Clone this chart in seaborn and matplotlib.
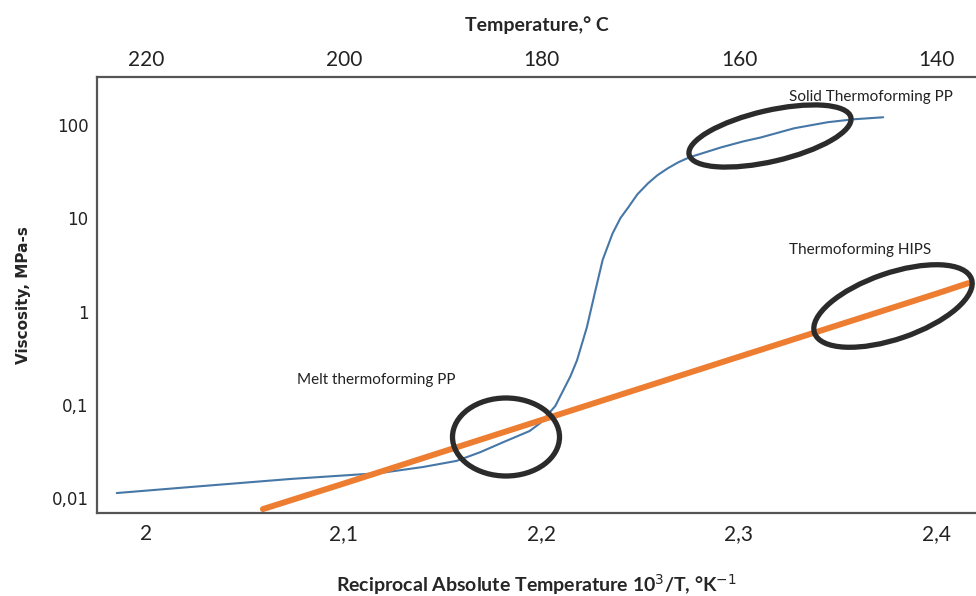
import numpy as np
import pandas as pd
import seaborn as sns
import matplotlib.pyplot as plt
from matplotlib.patches import Ellipse

# values
pp_recip = [1.985, 2.022, 2.073, 2.118, 2.140, 2.157, 2.169, 2.181, 2.194, 2.1995,
            2.207, 2.2147, 2.218, 2.223, 2.227, 2.231, 2.236, 2.240, 2.244, 2.2486,
            2.254, 2.2587, 2.264, 2.2694, 2.275, 2.283, 2.291, 2.3023, 2.311, 2.328,
            2.345, 2.358, 2.373]
pp_visc = [0.0113, 0.0131, 0.016, 0.0185, 0.0215, 0.025, 0.031, 0.040, 0.0523, 0.064,
           0.097, 0.203, 0.30, 0.68, 1.58, 3.6, 6.9, 10.1, 13.2, 18.2,
           23.9, 29.1, 34.6, 40.2, 45.4, 51.3, 58, 67.3, 74, 93,
           108, 116, 122]

hips_recip = [2.059, 2.1, 2.2, 2.3, 2.4, 2.416]
hips_visc = [0.0076, 0.0143, 0.0686, 0.328, 1.56, 2.02]

recip_ticks = [2.0, 2.1, 2.2, 2.3, 2.4]
recip_labels = ['2', '2,1', '2,2', '2,3', '2,4']
temp_labels = ['220', '200', '180', '160', '140']
visc_ticks = [0.01, 0.1, 1, 10, 100]
visc_labels = ['0,01', '0,1', '1', '10', '100']

W, H = 976, 596

sns.set_style('white')
plt.rcParams['font.family'] = ['Lato', 'DejaVu Sans']

pp = pd.DataFrame({'recip': pp_recip, 'visc': pp_visc})
hips = pd.DataFrame({'recip': hips_recip, 'visc': hips_visc})

fig = plt.figure(figsize=(W / 100, H / 100), dpi=100)
ax = fig.add_axes([97 / W, 1 - 513 / H, 1 - 97 / W, (513 - 77) / H])

sns.lineplot(data=pp, x='recip', y='visc', ax=ax, color='#4677a6', linewidth=1.5, sort=False)
sns.lineplot(data=hips, x='recip', y='visc', ax=ax, color='#ed7d31', linewidth=4.3, sort=False)

ax.set_yscale('log')
ax.set_xlim(1.975, 2.420)
ax.set_ylim(0.0069, 330)
ax.set_yticks(visc_ticks)
ax.set_yticklabels(visc_labels, family='DejaVu Sans', fontsize=12)
ax.minorticks_off()
ax.set_xticks(recip_ticks)
ax.set_xticklabels(recip_labels, fontsize=15)
ax.tick_params(length=0, colors='#222222')
ax.tick_params(axis='x', pad=8)
ax.tick_params(axis='y', pad=6)

ax.set_xlabel('Reciprocal Absolute Temperature 10$^3$/T, °K$^{-1}$',
              fontsize=14, fontweight='bold', labelpad=20)
ax.set_ylabel('Viscosity, MPa-s', family='DejaVu Sans', fontsize=11,
              fontweight='bold', labelpad=15)

for side in ['left', 'bottom', 'top']:
    ax.spines[side].set_color('#555555')
    ax.spines[side].set_linewidth(1.6)
ax.spines['right'].set_visible(False)

# top axis: temperature in degrees C
ax2 = ax.twiny()
ax2.set_xlim(ax.get_xlim())
ax2.set_xticks(recip_ticks)
ax2.set_xticklabels(temp_labels, fontsize=15)
ax2.tick_params(length=0, colors='#222222', pad=5)
ax2.set_xlabel('Temperature,° C', fontsize=14, fontweight='bold', labelpad=14)
for side in ['left', 'right', 'bottom', 'top']:
    ax2.spines[side].set_visible(False)

# notes and hand-drawn style rings
notes = [('Solid Thermoforming PP', 871, 97),
         ('Thermoforming HIPS', 860, 250),
         ('Melt thermoforming PP', 376, 380)]
for txt, px, py in notes:
    ax.annotate(txt, xy=(px, H - py), xycoords='figure pixels',
                ha='center', va='center', fontsize=11, color='#222222')

rings = [(770, 136, 166, 51, 13), (893, 306, 166, 66, 19), (506, 437, 107, 78, 0)]
for cx, cy, w, h, ang in rings:
    e = Ellipse((cx / 100, (H - cy) / 100), w / 100, h / 100, angle=ang,
                transform=fig.dpi_scale_trans, fill=False,
                edgecolor='#2b2b2b', linewidth=3.8, clip_on=False)
    fig.add_artist(e)

fig.savefig('out.png', dpi=100)
